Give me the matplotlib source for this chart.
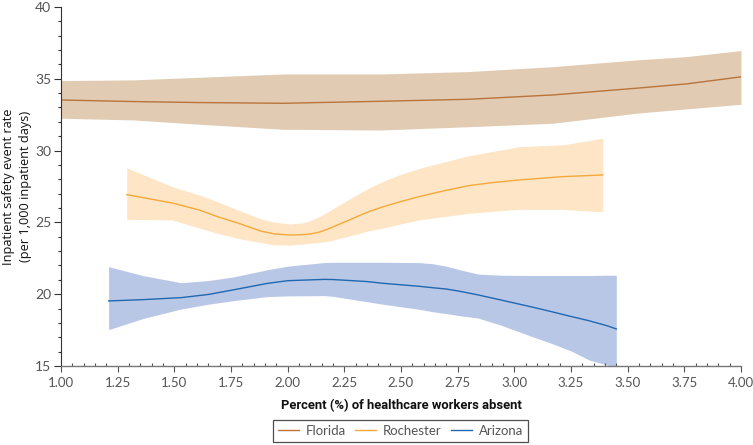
import numpy as np
import matplotlib as mpl
mpl.use("Agg")
import matplotlib.pyplot as plt
from matplotlib.ticker import MultipleLocator, FormatStrFormatter

# Florida
fl_x = [1.00, 1.32, 1.61, 1.98, 2.41, 2.80, 3.17, 3.54, 3.76, 4.00]
fl_mid = [33.52, 33.41, 33.34, 33.29, 33.43, 33.57, 33.87, 34.34, 34.64, 35.13]
fl_hi = [34.87, 34.92, 35.10, 35.33, 35.33, 35.50, 35.84, 36.31, 36.54, 36.96]
fl_lo = [32.25, 32.13, 31.83, 31.48, 31.43, 31.66, 31.90, 32.60, 32.90, 33.22]

# Rochester
ro_x = [1.29, 1.49, 1.61, 1.69, 1.79, 1.88, 1.94, 2.01, 2.06, 2.10, 2.14, 2.18, 2.22, 2.27, 2.32, 2.36, 2.42, 2.50, 2.58, 2.69, 2.80, 2.91, 3.02, 3.21, 3.39]
ro_mid = [26.93, 26.35, 25.86, 25.40, 24.90, 24.40, 24.20, 24.12, 24.14, 24.19, 24.32, 24.55, 24.82, 25.15, 25.50, 25.76, 26.08, 26.45, 26.79, 27.20, 27.56, 27.78, 27.95, 28.18, 28.30]
ro_hi = [28.79, 27.49, 26.90, 26.44, 25.80, 25.25, 25.02, 24.89, 24.95, 25.12, 25.40, 25.75, 26.15, 26.60, 27.05, 27.40, 27.85, 28.35, 28.75, 29.20, 29.65, 29.95, 30.27, 30.39, 30.86]
ro_lo = [25.21, 25.17, 24.60, 24.24, 23.85, 23.60, 23.43, 23.42, 23.48, 23.55, 23.60, 23.68, 23.85, 24.05, 24.25, 24.42, 24.60, 24.90, 25.17, 25.40, 25.63, 25.78, 25.90, 25.90, 25.74]

# Arizona
az_x = [1.21, 1.36, 1.53, 1.65, 1.76, 1.91, 2.00, 2.16, 2.20, 2.35, 2.42, 2.58, 2.64, 2.70, 2.76, 2.84, 2.94, 3.08, 3.16, 3.25, 3.33, 3.41, 3.45]
az_mid = [19.53, 19.62, 19.76, 19.98, 20.30, 20.75, 20.94, 21.03, 21.02, 20.88, 20.76, 20.55, 20.45, 20.36, 20.20, 19.95, 19.60, 19.10, 18.80, 18.45, 18.15, 17.80, 17.58]
az_hi = [21.92, 21.30, 20.80, 20.95, 21.20, 21.70, 21.95, 22.20, 22.22, 22.22, 22.22, 22.20, 22.12, 21.95, 21.70, 21.40, 21.32, 21.30, 21.30, 21.30, 21.30, 21.32, 21.32]
az_lo = [17.53, 18.30, 18.97, 19.30, 19.55, 19.83, 19.88, 19.90, 19.85, 19.48, 19.30, 18.95, 18.78, 18.65, 18.50, 18.34, 17.85, 17.04, 16.60, 16.05, 15.42, 15.07, 14.80]

series = [
    ("Florida", fl_x, fl_mid, fl_lo, fl_hi, "#b8743a", "#e2cbb3"),
    ("Rochester", ro_x, ro_mid, ro_lo, ro_hi, "#f4a93a", "#fde5c6"),
    ("Arizona", az_x, az_mid, az_lo, az_hi, "#1f68b0", "#b9c7e7"),
]

fig = plt.figure(figsize=(7.53, 4.45), dpi=100)
ax = fig.add_axes([0.081, 0.1775, 0.903, 0.807])

handles = []
for name, x, mid, lo, hi, lc, fc in series:
    ax.fill_between(x, lo, hi, color=fc, linewidth=0, zorder=1)
    h, = ax.plot(x, mid, color=lc, linewidth=1.0, zorder=2, label=name)
    handles.append(h)

ax.set_xlim(1.0, 4.0)
ax.set_ylim(15, 40)
ax.xaxis.set_major_locator(MultipleLocator(0.25))
ax.xaxis.set_minor_locator(MultipleLocator(0.05))
ax.yaxis.set_major_locator(MultipleLocator(5))
ax.yaxis.set_minor_locator(MultipleLocator(1))
ax.xaxis.set_major_formatter(FormatStrFormatter("%.2f"))

for s in ["top", "right"]:
    ax.spines[s].set_visible(False)
ax.spines["left"].set_color("#333333")
ax.spines["bottom"].set_color("#777777")
ax.spines["left"].set_linewidth(0.8)
ax.spines["bottom"].set_linewidth(1.0)

ax.tick_params(axis="y", which="major", direction="out", length=5, width=0.8,
               color="#333333", labelsize=10, labelcolor="#555555", pad=2)
ax.tick_params(axis="y", which="minor", direction="out", length=2.5, width=0.8, color="#333333")
ax.tick_params(axis="x", which="major", direction="out", length=4, width=0.8,
               color="#555555", labelsize=9.5, labelcolor="#555555", pad=4)
ax.tick_params(axis="x", which="minor", direction="in", length=2, width=0.8, color="#555555")
for lab in ax.get_xticklabels() + ax.get_yticklabels():
    lab.set_fontfamily("Lato")

ax.set_xlabel("Percent (%) of healthcare workers absent", fontsize=9.4,
              fontweight="bold", family="Roboto", color="#111111", labelpad=7)
ax.set_ylabel("Inpatient safety event rate\n(per 1,000 inpatient days)", fontsize=9.2,
              family="Open Sans", color="#111111", linespacing=1.45)
ax.yaxis.set_label_coords(-0.042, 0.5)

leg = fig.legend(handles=handles, loc="center", bbox_to_anchor=(0.532, 0.0315), ncol=3,
                 frameon=True, fancybox=False, edgecolor="#222222",
                 prop=dict(family="Lato", size=9.5), handlelength=1.6, handletextpad=0.5,
                 columnspacing=0.7, borderpad=0.4, borderaxespad=0)
leg.get_frame().set_linewidth(0.9)
for t in leg.get_texts():
    t.set_color("#555555")

fig.savefig("out.png", dpi=100)
